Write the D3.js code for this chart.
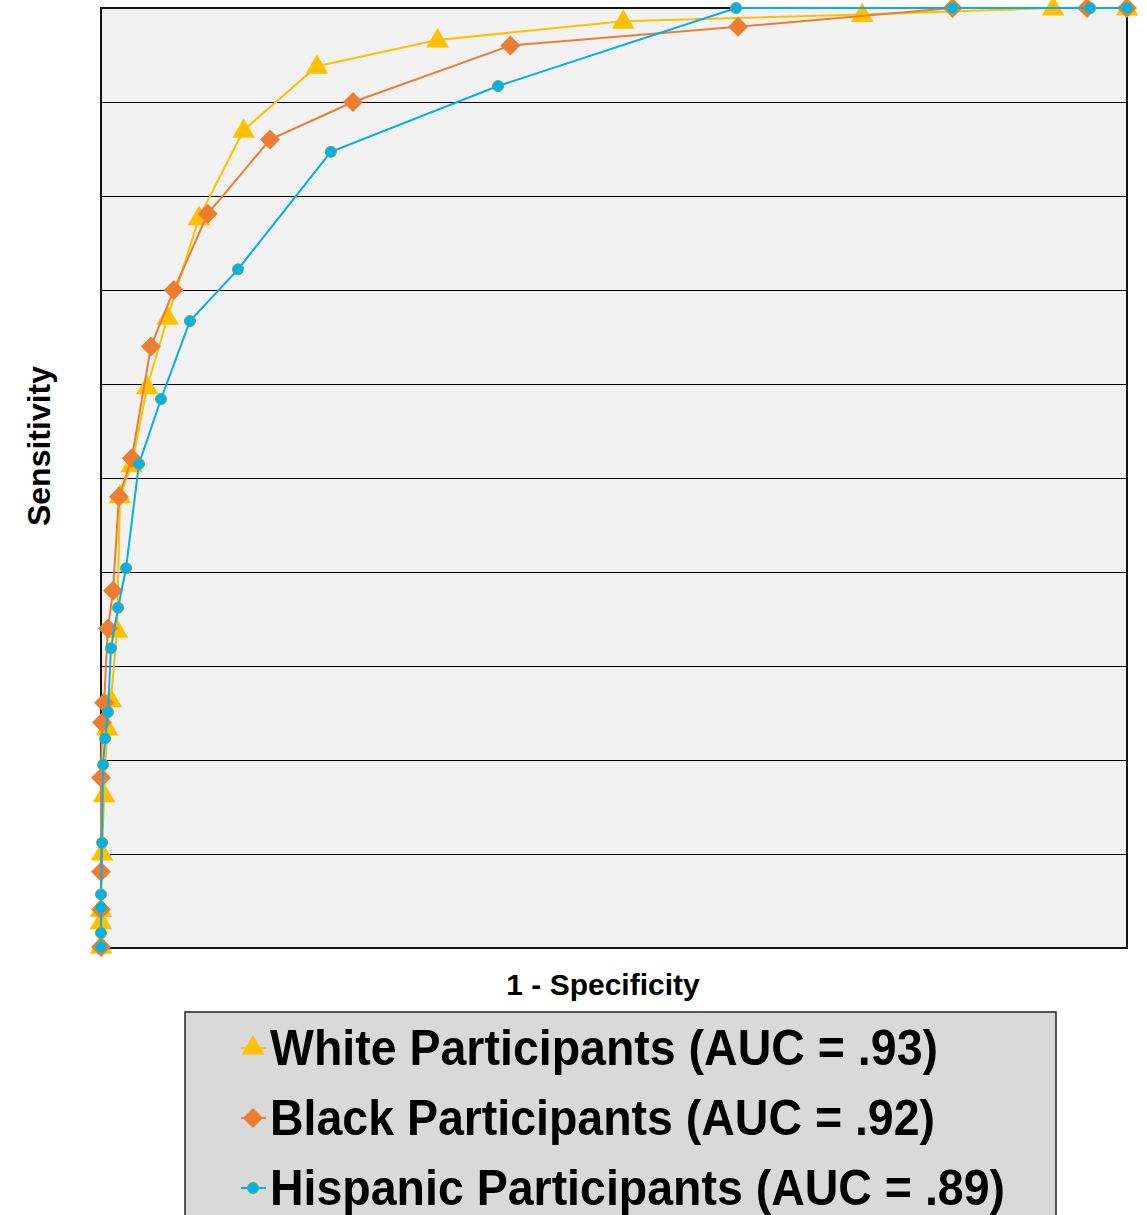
<!DOCTYPE html>
<html>
<head>
<meta charset="utf-8">
<script src="https://cdn.jsdelivr.net/npm/d3@7"></script>
<style>
  body { margin: 0; background: #fff; }
  svg { display: block; font-family: "Liberation Sans", Arial, sans-serif; }
</style>
</head>
<body>
<div id="chart"></div>
<script>
// ROC curves (x = 1 - specificity, y = sensitivity)
var whiteX = [0, 0, 0, 0.001, 0.003, 0.006, 0.0097, 0.0156, 0.0185, 0.030, 0.045, 0.065, 0.0955, 0.139, 0.2105, 0.328, 0.509, 0.742, 0.928, 1];
var whiteY = [0.002, 0.028, 0.041, 0.101, 0.163, 0.234, 0.264, 0.338, 0.481, 0.514, 0.597, 0.671, 0.777, 0.870, 0.938, 0.966, 0.986, 0.993, 1, 1];

var blackX = [0, 0, 0, 0, 0.001, 0.003, 0.0068, 0.0117, 0.0175, 0.030, 0.0487, 0.071, 0.104, 0.1647, 0.2456, 0.399, 0.621, 0.830, 0.961, 1];
var blackY = [0.001, 0.041, 0.081, 0.181, 0.240, 0.261, 0.340, 0.380, 0.480, 0.521, 0.640, 0.700, 0.781, 0.860, 0.900, 0.960, 0.980, 1, 1, 1];

var hispX = [0, 0, 0, 0, 0.001, 0.002, 0.004, 0.0068, 0.0097, 0.0166, 0.0244, 0.037, 0.0585, 0.0867, 0.1335, 0.224, 0.387, 0.619, 0.830, 0.964, 1];
var hispY = [0.001, 0.016, 0.043, 0.057, 0.112, 0.195, 0.223, 0.251, 0.319, 0.362, 0.404, 0.515, 0.584, 0.667, 0.722, 0.847, 0.917, 1, 1, 1, 1];

var gridTicks = [0.1, 0.2, 0.3, 0.4, 0.5, 0.6, 0.7, 0.8, 0.9];

var seriesNames = ["White Participants (AUC = .93)", "Black Participants (AUC = .92)", "Hispanic Participants (AUC = .89)"];
var seriesColors = ["#FFC000", "#ED7D31", "#00B0F0"];
var legendWidths = [668, 665, 735];

var svg = d3.select("#chart").append("svg").attr("width", 1147).attr("height", 1215),
    margin = {top: 8, right: 20, bottom: 267, left: 101},
    width = 1147 - margin.left - margin.right,
    height = 1215 - margin.top - margin.bottom;

var x = d3.scaleLinear().domain([0, 1]).range([0, width]);
var y = d3.scaleLinear().domain([0, 1]).range([height, 0]);

var g = svg.append("g").attr("transform", "translate(" + margin.left + "," + margin.top + ")");

g.append("rect")
    .attr("width", width)
    .attr("height", height)
    .attr("fill", "#F2F2F2");

// horizontal gridlines
g.append("g")
    .call(d3.axisLeft(y).tickValues(gridTicks).tickSize(-width).tickFormat(""))
    .call(function(a) { a.select(".domain").remove(); })
    .selectAll("line")
    .attr("stroke", "#000")
    .attr("stroke-width", 1.2);

g.append("rect")
    .attr("width", width)
    .attr("height", height)
    .attr("fill", "none")
    .attr("stroke", "#111")
    .attr("stroke-width", 2);

var triangle = d3.symbol().type(d3.symbolTriangle).size(220);
var square = d3.symbol().type(d3.symbolSquare).size(200);

var series = [
  {xs: whiteX, ys: whiteY, color: seriesColors[0], marker: "tri"},
  {xs: blackX, ys: blackY, color: seriesColors[1], marker: "dia"},
  {xs: hispX, ys: hispY, color: seriesColors[2], marker: "dot"}
];

var line = d3.line()
    .x(function(d) { return x(d[0]); })
    .y(function(d) { return y(d[1]); });

function drawMarker(sel, marker, color) {
  if (marker == "tri") {
    sel.append("path").attr("d", triangle).attr("fill", color);
  } else if (marker == "dia") {
    sel.append("path").attr("d", square).attr("transform", "rotate(45)").attr("fill", color);
  } else {
    sel.append("circle").attr("r", 5.5).attr("fill", color)
        .attr("stroke", "#70AD47").attr("stroke-width", 1);
  }
}

series.forEach(function(s) {
  var pts = d3.zip(s.xs, s.ys);
  g.append("path")
      .datum(pts)
      .attr("fill", "none")
      .attr("stroke", s.color)
      .attr("stroke-width", 2)
      .attr("d", line);

  g.append("g")
    .selectAll("g")
    .data(pts)
    .enter().append("g")
      .attr("transform", function(d) {
        var dy = s.marker == "tri" ? 1 : 0;
        return "translate(" + x(d[0]) + "," + (y(d[1]) + dy) + ")";
      })
      .each(function() { drawMarker(d3.select(this), s.marker, s.color); });
});

// axis titles
svg.append("text")
    .attr("x", 603)
    .attr("y", 995)
    .attr("text-anchor", "middle")
    .attr("font-size", 30)
    .attr("font-weight", "bold")
    .text("1 - Specificity");

svg.append("text")
    .attr("transform", "translate(50,446) rotate(-90)")
    .attr("text-anchor", "middle")
    .attr("font-size", 32)
    .attr("font-weight", "bold")
    .text("Sensitivity");

// legend
var legend = svg.append("g");
legend.append("rect")
    .attr("x", 185)
    .attr("y", 1012)
    .attr("width", 871)
    .attr("height", 230)
    .attr("fill", "#D9D9D9")
    .attr("stroke", "#222")
    .attr("stroke-width", 1.5);

var item = legend.selectAll("g")
    .data(series)
    .enter().append("g")
      .attr("transform", function(d, i) { return "translate(0," + (i * 70) + ")"; });

item.append("line")
    .attr("x1", 241).attr("x2", 266)
    .attr("y1", 1048).attr("y2", 1048)
    .attr("stroke", function(d) { return d.color; })
    .attr("stroke-width", 2);

item.append("g")
    .attr("transform", "translate(253,1048)")
    .each(function(d) { drawMarker(d3.select(this), d.marker, d.color); });

item.append("text")
    .attr("x", 270)
    .attr("y", 1065)
    .attr("font-size", 50)
    .attr("font-weight", "bold")
    .attr("textLength", function(d, i) { return legendWidths[i]; })
    .attr("lengthAdjust", "spacingAndGlyphs")
    .text(function(d, i) { return seriesNames[i]; });
</script>
</body>
</html>
